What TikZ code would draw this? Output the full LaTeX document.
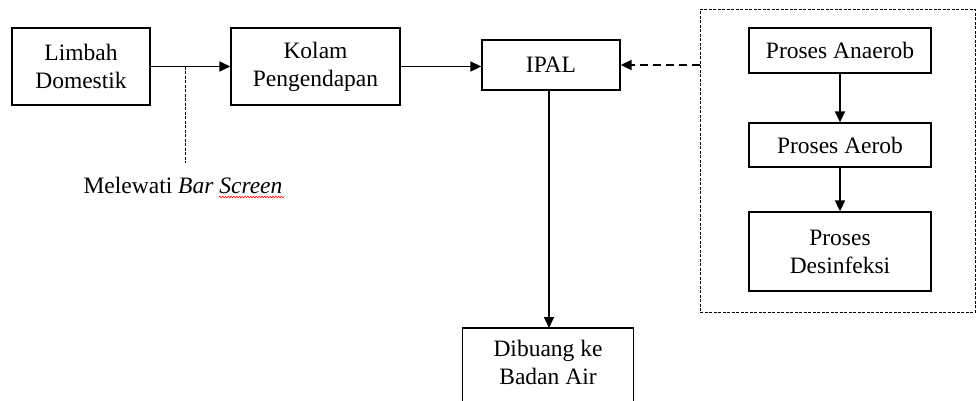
\documentclass[tikz,border=0pt]{standalone}
\usepackage{fontspec}
\setmainfont{Liberation Serif}
\usetikzlibrary{arrows.meta,decorations.pathmorphing}
\begin{document}
\begin{tikzpicture}[x=1pt,y=-1pt,
  box/.style={draw,line width=1.3pt,rectangle,align=center,inner sep=0pt,
    font=\fontsize{23.5}{28}\selectfont},
  flow/.style={line width=1.6pt,-{Triangle[length=11pt,width=10pt]}},
  dflow/.style={line width=1.6pt,dash pattern=on 8pt off 5pt,-{Triangle[length=11pt,width=10pt]}},
  grpbox/.style={draw,line width=0.9pt,dash pattern=on 3pt off 1.5pt,rectangle,inner sep=0pt},
  thindash/.style={line width=0.9pt,dash pattern=on 3pt off 1.5pt}]
\useasboundingbox (0,0) rectangle (976,400);
\node[box,minimum width=138pt,minimum height=77pt] (limbah) at (81,66.5) {Limbah\\Domestik};
\node[box,minimum width=169pt,minimum height=77pt] (kolam) at (315.5,66.5) {Kolam\\Pengendapan};
\node[box,minimum width=138pt,minimum height=50pt] (ipal) at (551,65) {IPAL};
\node[grpbox,minimum width=275pt,minimum height=303pt] (grp) at (837.5,160.5) {};
\node[box,minimum width=182pt,minimum height=45pt] (anaerob) at (840,50.5) {Proses Anaerob};
\node[box,minimum width=182pt,minimum height=44pt] (aerob) at (840,145) {Proses Aerob};
\node[box,minimum width=182pt,minimum height=79pt] (desinf) at (840,251.5) {Proses\\Desinfeksi};
\node[box,draw=none,minimum width=170pt,minimum height=68pt,anchor=north] (buang) at (548,328) {Dibuang ke\\Badan Air};
\draw[line width=1.3pt] (buang.north west) rectangle ([yshift=-14pt]buang.south east);
\node[font=\fontsize{23.5}{28}\selectfont,anchor=base,inner sep=0pt] (bar) at (183,193) {Melewati \textit{Bar Screen}};
\coordinate (bs) at (185,66.5);
\coordinate (bsend) at (185,163);
\draw[flow] (limbah.east) -- (kolam.west);
\draw[flow] (kolam.east) -- (kolam.east -| ipal.west);
\draw[thindash] (bs) -- (bsend);
\draw[dflow] (grp.west |- ipal.east) -- (ipal.east);
\draw[flow] (anaerob.south) -- (aerob.north);
\draw[flow] (aerob.south) -- (desinf.north);
\draw[flow] (ipal.south -| 549,0) -- (buang.north -| 549,0);
\draw[red,line width=0.6pt,decorate,decoration={snake,amplitude=0.8pt,segment length=2.8pt}] (219,197) -- (284,197);
\end{tikzpicture}
\end{document}
